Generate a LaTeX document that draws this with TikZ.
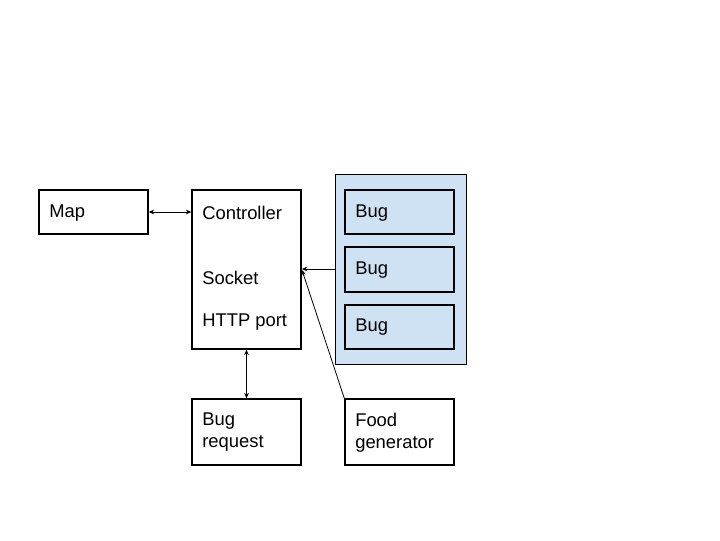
\documentclass[tikz,border=0pt]{standalone}
\usepackage{fontspec}
\setmainfont{Liberation Sans}
\usetikzlibrary{arrows.meta}
\definecolor{bugblue}{HTML}{CFE2F3}
\begin{document}
\begin{tikzpicture}[x=0.75pt,y=-0.75pt,
  box/.style={draw=black,line width=1.1pt,inner sep=0pt},
  lbl/.style={anchor=west,inner sep=0pt,font=\fontsize{13.8}{16.5}\selectfont,align=left},
  conn/.style={line width=0.6pt,-{Stealth[length=4pt,width=3.5pt]}},
  biconn/.style={line width=0.6pt,{Stealth[length=4pt,width=3.5pt]}-{Stealth[length=4pt,width=3.5pt]}}]
\useasboundingbox (0,0) rectangle (720,540);
% boxes
\node[box,minimum width=81.75pt,minimum height=33pt] (map) at (93.5,212) {};
\node[box,minimum width=81.75pt,minimum height=119.25pt] (ctrl) at (246.5,269.5) {};
\node[draw=black,line width=0.6pt,fill=bugblue,minimum width=98.25pt,minimum height=142.5pt,inner sep=0pt] (group) at (400.5,269) {};
\node[box,minimum width=81.75pt,minimum height=33pt] (bug1) at (399.5,212) {};
\node[box,minimum width=81.75pt,minimum height=33.75pt] (bug2) at (399.5,269.5) {};
\node[box,minimum width=81.75pt,minimum height=33pt] (bug3) at (399.5,327) {};
\node[box,minimum width=81.75pt,minimum height=49.5pt] (req) at (246.5,432) {};
\node[box,minimum width=81.75pt,minimum height=49.5pt] (food) at (399.5,432) {};
% texts
\node[lbl] (tmap) at (49,213.5) {Map};
\node[lbl] (tc1) at (202,212.5) {Controller};
\node[lbl] (tc2) at (202,278) {Socket};
\node[lbl] (tc3) at (202,322.5) {HTTP port};
\node[lbl] (tb1) at (355,213.5) {Bug};
\node[lbl] (tb2) at (355,270.5) {Bug};
\node[lbl] (tb3) at (355,327.5) {Bug};
\node[lbl] (treq) at (202,432.5) {Bug\\request};
\node[lbl] (tfood) at (355,432.5) {Food\\generator};
% connectors
\coordinate (ctrlin) at (302,269);
\coordinate (ctrlin2) at (302,270);
\draw[biconn] (map.east) -- (ctrl.west|-map.east);
\draw[conn] (group.west|-ctrlin) -- (ctrlin);
\draw[conn] (food.north west) -- (ctrlin2);
\draw[biconn] (ctrl.south) -- (req.north);
\end{tikzpicture}
\end{document}
